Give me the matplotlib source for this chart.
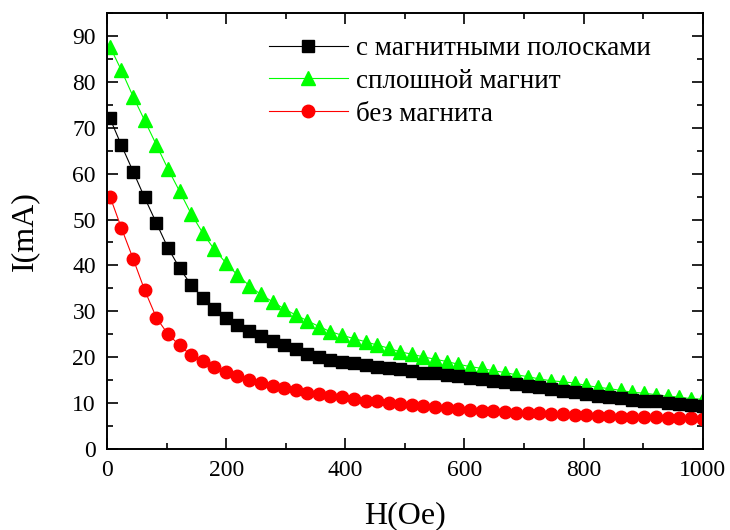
import matplotlib
matplotlib.use("Agg")
import matplotlib.pyplot as plt
from matplotlib.ticker import MultipleLocator

plt.rcParams["font.family"] = ["Liberation Serif", "DejaVu Serif"]

# ── Data ──────────────────────────────────────────────────────────────────────

H_OE = [
    5, 24, 44, 63, 83, 102, 122, 141, 161, 180,
    200, 219, 239, 258, 278, 297, 317, 336, 356, 375,
    395, 414, 434, 453, 473, 492, 512, 531, 551, 570,
    590, 609, 629, 648, 668, 687, 707, 726, 746, 765,
    785, 804, 824, 843, 863, 882, 902, 921, 941, 960,
    980, 1000,
]

I_STRIPES = [
    72.0, 66.2, 60.4, 54.8, 49.2, 43.9, 39.4, 35.8, 32.9, 30.5,
    28.5, 27.0, 25.8, 24.7, 23.6, 22.7, 21.8, 20.7, 20.0, 19.4,
    19.0, 18.7, 18.3, 18.0, 17.6, 17.4, 17.1, 16.7, 16.5, 16.2,
    15.9, 15.6, 15.3, 14.9, 14.6, 14.1, 13.8, 13.5, 13.1, 12.7,
    12.4, 12.1, 11.7, 11.4, 11.1, 10.8, 10.6, 10.4, 10.0, 9.8,
    9.6, 9.5,
]

I_SOLID = [
    87.6, 82.5, 76.7, 71.6, 66.2, 61.1, 56.1, 51.3, 47.0, 43.5,
    40.5, 37.9, 35.6, 33.7, 32.1, 30.6, 29.2, 28.0, 26.7, 25.6,
    24.8, 24.1, 23.4, 22.7, 22.0, 21.2, 20.7, 20.1, 19.6, 19.1,
    18.5, 18.0, 17.6, 17.1, 16.7, 16.2, 15.8, 15.3, 14.9, 14.7,
    14.4, 13.9, 13.5, 13.2, 12.8, 12.4, 12.2, 11.9, 11.5, 11.4,
    11.0, 10.9,
]

I_NONE = [
    55.0, 48.2, 41.4, 34.7, 28.6, 25.1, 22.6, 20.5, 19.2, 18.0,
    16.9, 16.0, 15.1, 14.4, 13.8, 13.3, 12.8, 12.3, 12.0, 11.6,
    11.3, 10.9, 10.6, 10.4, 10.1, 9.9, 9.6, 9.4, 9.3, 9.0,
    8.8, 8.5, 8.4, 8.3, 8.2, 8.0, 7.8, 7.8, 7.7, 7.6,
    7.5, 7.4, 7.3, 7.25, 7.1, 7.05, 7.0, 6.95, 6.8, 6.8,
    6.7, 6.55,
]

LABELS = ["с магнитными полосками", "сплошной магнит", "без магнита"]

# ── Plot ──────────────────────────────────────────────────────────────────────

fig = plt.figure(figsize=(7.3, 5.3), dpi=100)
ax = fig.add_axes([0.1466, 0.1523, 0.8160, 0.8237])

ax.plot(H_OE, I_STRIPES, color="black", lw=0.8, marker="s", ms=9,
        mec="black", label=LABELS[0], zorder=3)
ax.plot(H_OE, I_SOLID, color="#00ff00", lw=0.8, marker="^", ms=10.5,
        mec="#00ff00", label=LABELS[1], zorder=2)
ax.plot(H_OE, I_NONE, color="red", lw=0.8, marker="o", ms=9,
        mec="red", label=LABELS[2], zorder=2)

ax.set_xlim(0, 1000)
ax.set_ylim(0, 95)
ax.xaxis.set_major_locator(MultipleLocator(200))
ax.xaxis.set_minor_locator(MultipleLocator(100))
ax.yaxis.set_major_locator(MultipleLocator(10))
ax.yaxis.set_minor_locator(MultipleLocator(5))

ax.tick_params(which="both", direction="in", top=True, right=True,
               width=1.2, labelsize=17)
ax.tick_params(which="major", length=8, pad=8)
ax.tick_params(which="minor", length=4)
for sp in ax.spines.values():
    sp.set_linewidth(1.4)

ax.set_xlabel("H(Oe)", fontsize=23, labelpad=14)
ax.set_ylabel("I(mA)", fontsize=23, labelpad=24)

ax.legend(loc="upper left", bbox_to_anchor=(0.245, 0.983), frameon=False,
          fontsize=19.5, handlelength=2.9, handletextpad=0.3,
          labelspacing=0.28, borderaxespad=0.2)

plt.savefig("out.png", dpi=100)
